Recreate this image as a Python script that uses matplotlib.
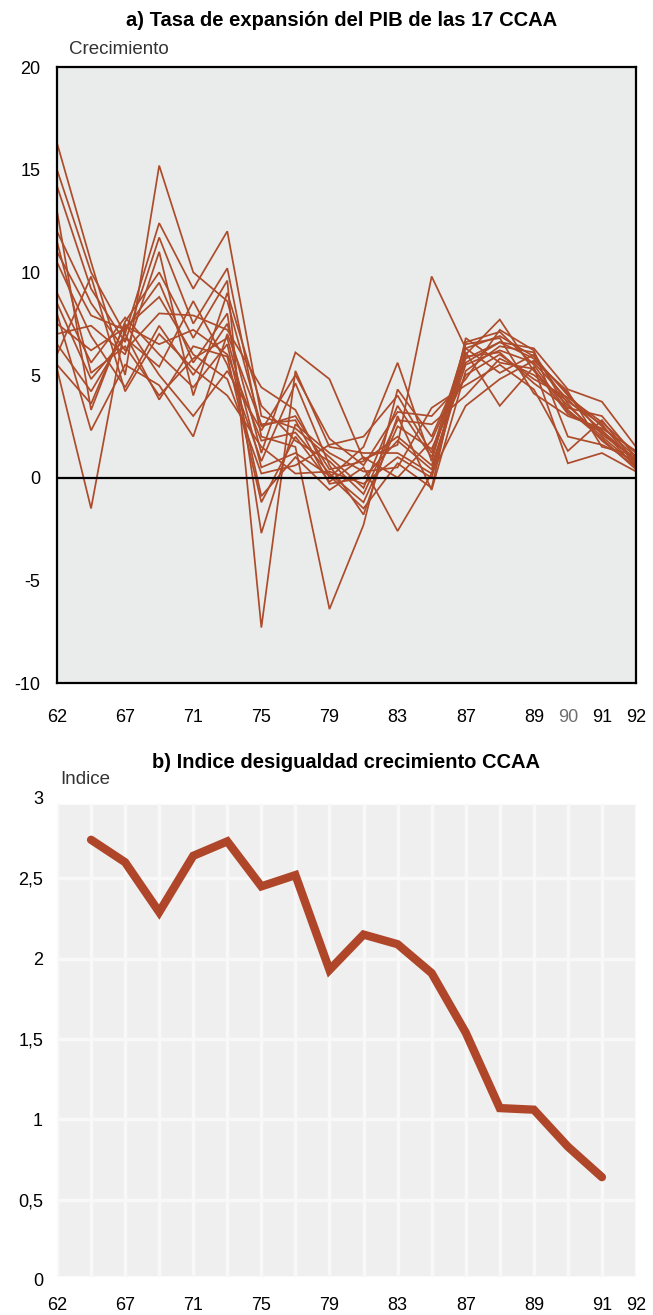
import numpy as np
import matplotlib
matplotlib.use('Agg')
import matplotlib.pyplot as plt

plt.rcParams['font.family'] = ['Liberation Sans', 'DejaVu Sans']

# observation periods (equally spaced on the chart)
periods = ['63', '65', '67', '69', '71', '73', '75', '77', '79', '81',
           '83', '85', '87', '88', '89', '90', '91', '92']

# growth of GDP for the 17 regions, one list per region
ccaa_growth = [
    [16.3, 10.5, 5.0, 15.2, 10.0, 8.6, 2.5, 3.0, 0.4, 0.8, 2.0, 0.6, 5.5, 6.2, 5.6, 3.8, 2.3, 0.8],
    [15.0, 10.0, 7.0, 12.4, 9.2, 12.0, 3.0, 2.4, 1.0, -0.5, 3.5, 1.0, 6.0, 7.7, 5.2, 3.5, 2.0, 0.6],
    [14.2, 9.2, 6.6, 11.7, 7.5, 10.2, 2.0, 1.5, -6.4, -2.3, 4.3, 2.0, 5.8, 6.6, 6.3, 4.3, 3.7, 1.5],
    [13.0, 3.3, 7.6, 10.0, 6.8, 9.6, -7.3, 5.2, 1.5, 1.2, 1.2, 0.2, 6.3, 6.9, 5.9, 4.0, 2.5, 1.0],
    [12.0, 8.5, 6.2, 8.0, 7.9, 7.2, 4.4, 3.3, 0.0, 1.5, 5.6, 0.8, 6.6, 7.1, 5.5, 3.2, 2.2, 0.9],
    [5.3, -1.5, 7.4, 6.5, 7.2, 6.0, 1.8, 2.2, 0.2, -1.2, 2.5, 1.4, 5.0, 6.0, 4.8, 3.9, 2.7, 1.2],
    [11.0, 7.9, 7.2, 9.5, 5.6, 8.0, -2.7, 2.6, 1.2, 0.3, 0.5, 3.4, 4.5, 5.5, 4.3, 1.3, 2.8, 0.7],
    [10.5, 6.9, 4.4, 7.4, 5.0, 7.5, 1.2, 6.1, 4.8, 0.9, 1.6, 9.8, 6.3, 5.1, 6.0, 3.6, 1.8, 0.5],
    [9.0, 5.6, 7.8, 6.0, 4.4, 6.5, -0.9, 1.0, -0.6, 0.5, -2.6, 0.2, 3.5, 4.8, 5.7, 4.2, 1.5, 1.1],
    [8.5, 4.8, 6.8, 5.4, 8.6, 5.5, 0.8, 4.6, 0.6, -1.8, 3.0, -0.6, 5.2, 6.4, 6.1, 3.3, 1.9, 0.4],
    [8.0, 2.3, 5.5, 4.5, 2.0, 7.0, 2.6, 2.8, -0.3, 0.0, 1.8, 0.4, 6.1, 3.5, 5.4, 0.7, 1.2, 0.3],
    [7.5, 6.2, 7.3, 8.8, 6.0, 4.8, 0.2, 0.6, 1.6, 2.0, 4.0, 1.2, 6.5, 6.8, 4.1, 3.0, 2.4, 1.3],
    [7.0, 7.4, 6.0, 11.0, 4.0, 9.0, 3.5, 1.8, 0.8, -0.8, 2.8, 2.6, 4.0, 5.8, 5.0, 3.7, 2.6, 0.6],
    [6.5, 4.2, 7.0, 3.8, 6.4, 5.9, -1.2, 2.0, -0.2, 1.0, 0.0, 1.8, 5.6, 6.6, 5.8, 4.1, 2.1, 0.9],
    [6.0, 9.8, 4.2, 7.0, 5.3, 4.0, 1.5, 0.2, 0.3, -0.3, 1.0, 0.0, 5.9, 6.1, 4.6, 3.4, 3.0, 1.0],
    [5.5, 3.6, 7.5, 5.0, 3.0, 5.2, 2.3, 5.0, 1.9, 0.6, 3.2, 3.0, 4.8, 7.2, 6.2, 2.0, 1.6, 0.8],
    [11.5, 5.1, 6.4, 4.0, 5.8, 6.8, 0.5, 1.2, 0.1, -1.5, 0.7, -0.5, 6.8, 5.6, 5.3, 3.1, 2.3, 0.5],
]

# inequality index, periods 65 .. 91
indice_periods = periods[1:17]
indice = [2.74, 2.60, 2.29, 2.64, 2.73, 2.45, 2.52, 1.93, 2.15, 2.09,
          1.91, 1.54, 1.07, 1.06, 0.83, 0.64]

top_ticks = ['62', '67', '71', '75', '79', '83', '87', '89', '90', '91', '92']
top_tick_pos = [0, 2, 4, 6, 8, 10, 12, 14, 15, 16, 17]
bot_ticks = ['62', '67', '71', '75', '79', '83', '87', '89', '91', '92']
bot_tick_pos = [0, 2, 4, 6, 8, 10, 12, 14, 16, 17]

line_col = '#ad4b2b'
W, H = 653, 1315
fig = plt.figure(figsize=(W / 100, H / 100), dpi=100)

# ---- panel a)
ax1 = fig.add_axes([57 / W, 1 - 683 / H, (636 - 57) / W, (683 - 67) / H])
ax1.set_facecolor('#e9ecea')
x = np.arange(len(periods))
for serie in ccaa_growth:
    ax1.plot(x, serie, color=line_col, lw=1.25, solid_joinstyle='miter')
ax1.axhline(0, color='black', lw=1.6)
ax1.set_xlim(0, len(periods) - 1)
ax1.set_ylim(-10, 20)
ax1.set_yticks([20, 15, 10, 5, 0, -5, -10])
ax1.set_yticklabels(['20', '15', '10', '5', '0', '-5', '-10'])
ax1.set_xticks(top_tick_pos)
ax1.set_xticklabels(top_ticks)
for lab in ax1.get_xticklabels():
    if lab.get_text() == '90':
        lab.set_color('#6e6e6e')
ax1.tick_params(length=0, labelsize=13, pad=19)
ax1.tick_params(axis='y', pad=12)
for sp in ax1.spines.values():
    sp.set_linewidth(1.6)
fig.text(342 / W, 1 - 20 / H, 'a) Tasa de expansión del PIB de las 17 CCAA',
         ha='center', va='center', fontsize=14.5, fontweight='bold')
fig.text(69 / W, 1 - 50 / H, 'Crecimiento', ha='left', va='center',
         fontsize=13.5, color='#333333')

# ---- panel b)
ax2 = fig.add_axes([57 / W, 1 - 1280 / H, (636 - 57) / W, (1280 - 798) / H])
ax2.set_facecolor('white')
ax2.axvspan(0, len(periods) - 1, ymin=0.01, ymax=0.985, color='#efefef', zorder=0)
for xv in x:
    ax2.axvline(xv, ymin=0.01, ymax=0.985, color='#f8f8f8', lw=2.5, zorder=0.5)
for yv in [0.5, 1, 1.5, 2, 2.5]:
    ax2.axhline(yv, color='#f8f8f8', lw=2.5, zorder=0.5)
xb = [periods.index(p) for p in indice_periods]
ax2.plot(xb, indice, color='#b04629', lw=6, solid_capstyle='round',
         solid_joinstyle='miter', zorder=3)
ax2.set_xlim(0, len(periods) - 1)
ax2.set_ylim(0, 3)
ax2.set_yticks([0, 0.5, 1, 1.5, 2, 2.5, 3])
ax2.set_yticklabels(['0', '0,5', '1', '1,5', '2', '2,5', '3'])
ax2.set_xticks(bot_tick_pos)
ax2.set_xticklabels(bot_ticks)
ax2.tick_params(length=0, labelsize=13, pad=12)
ax2.tick_params(axis='y', pad=10)
for sp in ax2.spines.values():
    sp.set_visible(False)
fig.text(346 / W, 1 - 763 / H, 'b) Indice desigualdad crecimiento CCAA',
         ha='center', va='center', fontsize=14.5, fontweight='bold')
fig.text(60 / W, 1 - 780 / H, 'Indice', ha='left', va='center',
         fontsize=13.5, color='#333333')

fig.savefig('out.png', dpi=100, facecolor='white')
